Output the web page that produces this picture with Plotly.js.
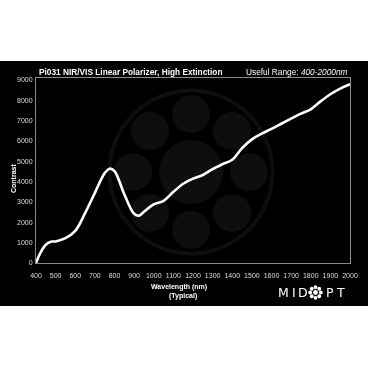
<!DOCTYPE html>
<html><head><meta charset="utf-8">
<script src="https://cdn.plot.ly/plotly-3.0.1.min.js"></script>
<style>html,body{margin:0;padding:0;background:#fff;} #chart{will-change:transform;}</style>
</head><body><div id="chart" style="width:368px;height:368px;"></div>
<script>
const wavelength = [400,425,450,475,500,550,600,650,700,750,775,800,850,900,925,950,1000,1050,1100,1150,1200,1250,1300,1350,1400,1450,1500,1550,1600,1650,1700,1750,1800,1850,1900,1950,2000];
const contrast = [0,550,900,1050,1060,1220,1580,2450,3450,4420,4640,4520,3380,2420,2330,2520,2880,3060,3500,3900,4150,4330,4620,4860,5080,5650,6080,6360,6600,6850,7100,7350,7560,7950,8300,8580,8790];
const xTicks = [400,500,600,700,800,900,1000,1100,1200,1300,1400,1500,1600,1700,1800,1900,2000];
const yTicks = [0,1000,2000,3000,4000,5000,6000,7000,8000,9000];

const L = 36, R = 18, T = 78, B = 105, W = 368, H = 368;
const pw = W - L - R, ph = H - T - B;
const px = x => (x - L) / pw;
const py = y => (H - B - y) / ph;
const FONT = "Liberation Sans, Arial, sans-serif";

const shapes = [];
shapes.push({type:'rect', xref:'paper', yref:'paper', x0:px(0), x1:px(W), y0:py(306), y1:py(61),
  fillcolor:'#000', line:{width:0}, layer:'below'});
const wm = '#0e0e0e';
function circ(cx, cy, r, fill, lw) {
  shapes.push({type:'circle', xref:'paper', yref:'paper', xsizemode:'pixel', ysizemode:'pixel',
    xanchor:px(cx), yanchor:py(cy), x0:-r, x1:r, y0:-r, y1:r,
    fillcolor: fill || 'rgba(0,0,0,0)', line:{color: lw ? wm : 'rgba(0,0,0,0)', width: lw || 0}, layer:'below'});
}
const cx0 = 191, cy0 = 172;
circ(cx0, cy0, 81.5, null, 4);
circ(cx0, cy0, 32, wm);
for (let k = 0; k < 8; k++) {
  const a = k * Math.PI / 4;
  circ(cx0 + 58 * Math.sin(a), cy0 - 58 * Math.cos(a), 19, wm);
}
function wcirc(cx, cy, r) {
  shapes.push({type:'circle', xref:'paper', yref:'paper', xsizemode:'pixel', ysizemode:'pixel',
    xanchor:px(cx), yanchor:py(cy), x0:-r, x1:r, y0:-r, y1:r,
    fillcolor:'#fff', line:{width:0}, layer:'above'});
}
const ox = 315.5, oy = 292.5;
wcirc(ox, oy, 2.4);
for (let k = 0; k < 8; k++) {
  const a = k * Math.PI / 4;
  wcirc(ox + 5.3 * Math.sin(a), oy - 5.3 * Math.cos(a), 1.9);
}

const ann = (x, y, text, opts) => Object.assign({xref:'paper', yref:'paper', x:px(x), y:py(y),
  text, showarrow:false, font:{family:FONT, size:7, color:'#fff'}}, opts || {});

const annotations = [
  ann(37, 72, '<b>Pi031 NIR/VIS Linear Polarizer, High Extinction</b>', {xanchor:'left', yanchor:'middle', font:{family:FONT, size:8.3, color:'#fff'}}),
  ann(350, 72, 'Useful Range: <i>400-2000nm</i>', {xanchor:'right', yanchor:'middle', font:{family:FONT, size:8.3, color:'#fff'}}),
  ann(13, 179, '<b>Contrast</b>', {textangle:-90, xanchor:'center', yanchor:'middle'}),
  ann(179, 287, '<b>Wavelength (nm)</b>', {xanchor:'center', yanchor:'middle'}),
  ann(183, 296, '<b>(Typical)</b>', {xanchor:'center', yanchor:'middle'}),
];
const logo = [['M',283.5],['I',294],['D',302.5],['P',329.5],['T',340]];
logo.forEach(([c, x]) => annotations.push(ann(x, 292.5, c, {xanchor:'center', yanchor:'middle', font:{family:'DejaVu Sans, sans-serif', size:12.5, color:'#fff'}})));

const trace = {x: wavelength, y: contrast, type:'scatter', mode:'lines',
  line:{color:'#fff', width:2.6, shape:'spline', smoothing:1}, hoverinfo:'skip'};

const layout = {
  width:W, height:H, margin:{l:L, r:R, t:T, b:B, pad:0},
  paper_bgcolor:'#fff', plot_bgcolor:'rgba(0,0,0,0)', showlegend:false,
  xaxis:{range:[400,2000], tickvals:xTicks, ticktext:xTicks.map(String), showgrid:false, zeroline:false,
    showline:true, mirror:true, linecolor:'#8a8a8a', linewidth:1, ticks:'',
    tickfont:{family:FONT, size:7, color:'#ddd'}, ticklabelstandoff:6},
  yaxis:{range:[0,9100], tickvals:yTicks, ticktext:yTicks.map(String), showgrid:false, zeroline:false,
    showline:true, mirror:true, linecolor:'#8a8a8a', linewidth:1, ticks:'',
    tickfont:{family:FONT, size:7, color:'#ddd'}, ticklabelstandoff:1},
  shapes, annotations
};
Plotly.newPlot('chart', [trace], layout, {staticPlot:true, displayModeBar:false});
</script></body></html>
